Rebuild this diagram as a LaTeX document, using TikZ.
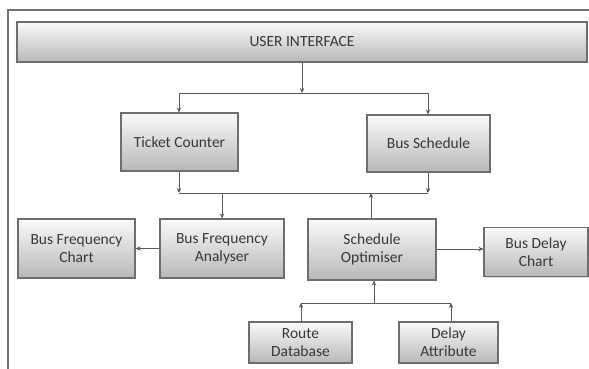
\documentclass[tikz,border=0pt]{standalone}
\usepackage{fontspec}
\setmainfont{Carlito}
\usetikzlibrary{arrows.meta,shadows}
\definecolor{txt}{HTML}{383838}
\definecolor{edge}{HTML}{6E6E6E}
\definecolor{ln}{HTML}{5A5A5A}
\tikzset{
  blk/.style={draw=edge, line width=1.1pt, top color=white!96!gray, bottom color=black!28,
    drop shadow={shadow xshift=1.2pt, shadow yshift=-1.2pt, fill=black!25, opacity=0.6},
    text=txt, font=\fontsize{15.5}{18}\selectfont, align=center, inner sep=2pt},
  con/.style={draw=ln, line width=0.9pt},
  arr/.style={con, -{Stealth[length=5pt,width=4.5pt]}},
}
\begin{document}
\begin{tikzpicture}[x=1pt,y=-1pt]
\useasboundingbox (0,0) rectangle (589,369);
\draw[draw=black!55, line width=1.3pt] (8,369) -- (8,10) -- (589,10);

\node[blk, minimum width=570pt, minimum height=40pt] (ui) at (302,42) {USER INTERFACE};
\node[blk, minimum width=117pt, minimum height=58pt] (tc) at (179.5,142) {Ticket Counter};
\node[blk, minimum width=123pt, minimum height=57pt] (bs) at (428.5,143.5) {Bus Schedule};
\node[blk, minimum width=117pt, minimum height=59pt] (bfc) at (76.5,248.5) {Bus Frequency\\Chart};
\node[blk, minimum width=124pt, minimum height=59pt] (bfa) at (222,248.5) {Bus Frequency\\Analyser};
\node[blk, minimum width=128pt, minimum height=61pt] (so) at (372,249.5) {Schedule\\Optimiser};
\node[blk, minimum width=104pt, minimum height=49pt] (bdc) at (536,252) {Bus Delay\\Chart};
\node[blk, minimum width=103pt, minimum height=41pt] (rd) at (300.5,342.5) {Route\\Database};
\node[blk, minimum width=99pt, minimum height=41pt] (da) at (448.5,342.5) {Delay\\Attribute};

% top fan-out
\coordinate (j1) at (302,93);
\coordinate (j1l) at (179,93);
\coordinate (j1r) at (428,93);
\draw[arr] (ui.south) -- (j1);
\draw[con] (j1l) -- (j1r);
\draw[arr] (j1l) -- (j1l |- tc.north);
\draw[arr] (j1r) -- (j1r |- bs.north);

% middle bus
\coordinate (j2l) at (179,193);
\coordinate (j2r) at (428,193);
\coordinate (j2a) at (222,193);
\coordinate (j2o) at (371,193);
\draw[arr] (j2l |- tc.south) -- (j2l);
\draw[arr] (j2r |- bs.south) -- (j2r);
\draw[con] (j2l) -- (j2r);
\draw[arr] (j2a) -- (j2a |- bfa.north);
\draw[arr] (j2o |- so.north) -- (j2o);

% side arrows
\draw[arr] (bfa.west) -- (bfc.east);
\draw[arr] (so.east |- 0,249) -- (bdc.west |- 0,249);

% bottom fan-in
\coordinate (j3l) at (301,303);
\coordinate (j3r) at (451,303);
\coordinate (j3m) at (374,303);
\draw[arr] (j3l |- rd.north) -- (j3l);
\draw[arr] (j3r |- da.north) -- (j3r);
\draw[con] (j3l) -- (j3r);
\draw[arr] (j3m) -- (j3m |- so.south);
\end{tikzpicture}
\end{document}
